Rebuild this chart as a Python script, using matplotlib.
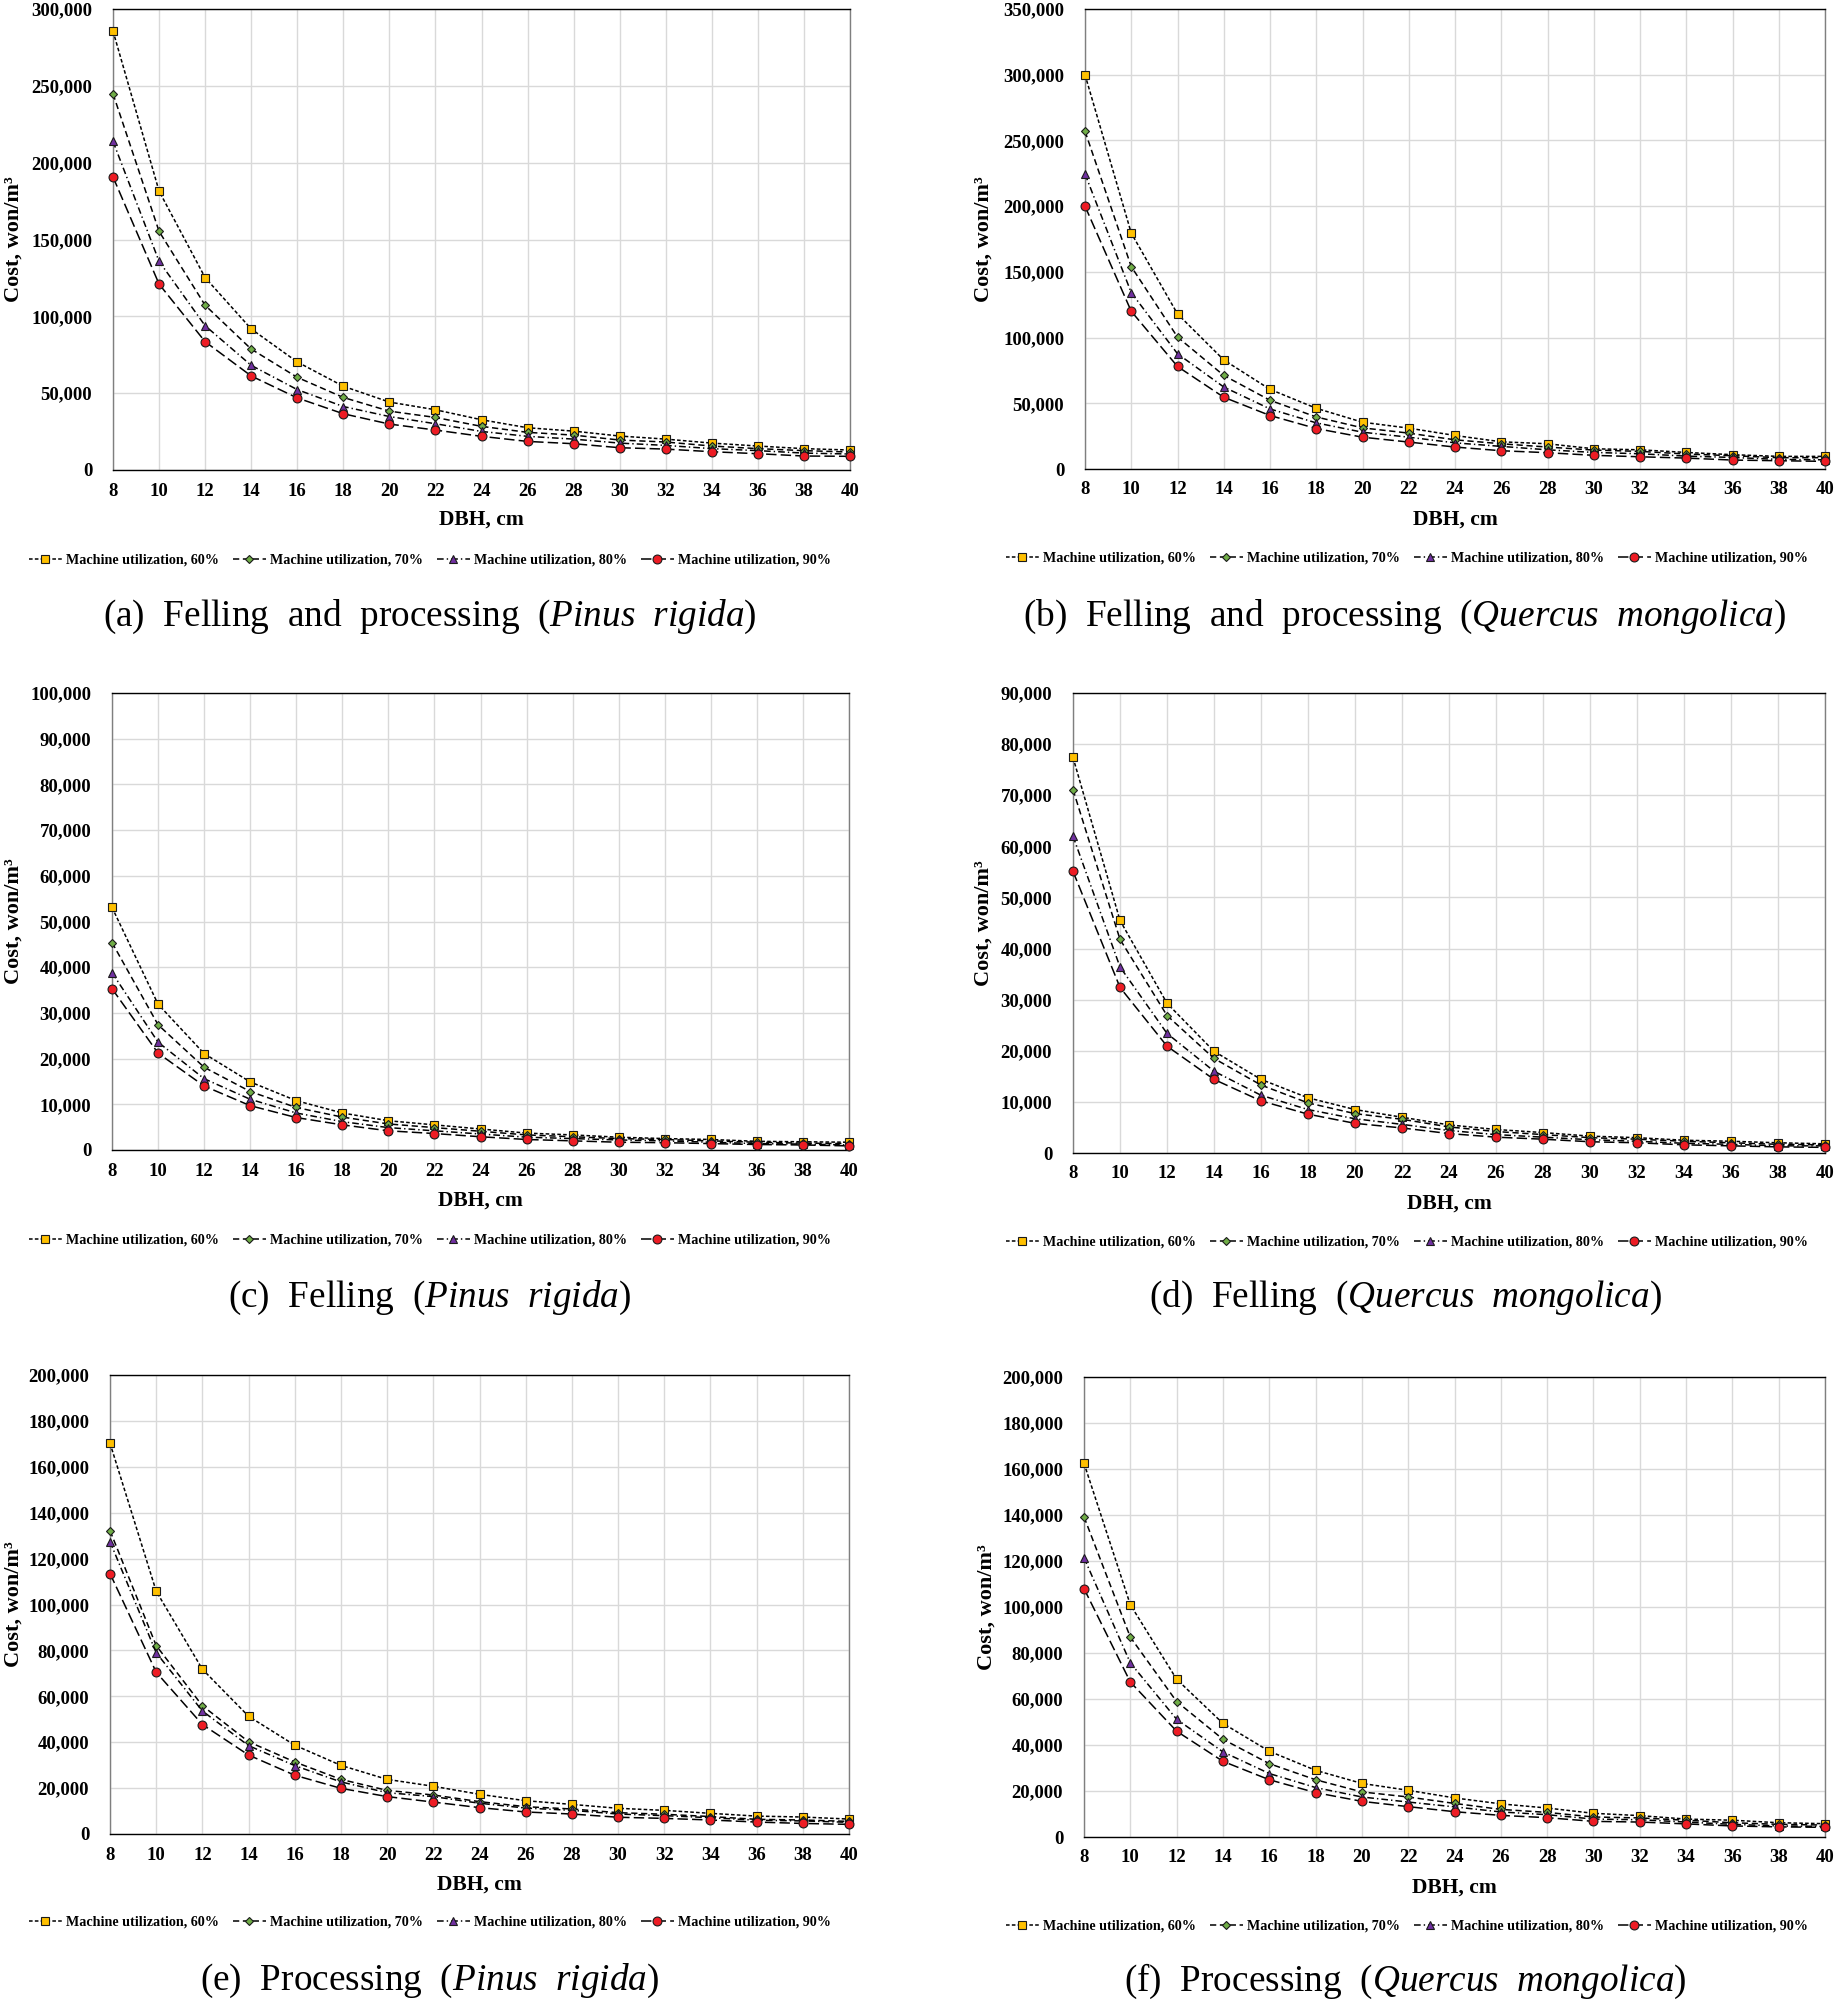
import matplotlib
matplotlib.use('Agg')
import matplotlib.pyplot as plt
from matplotlib.ticker import FuncFormatter, MultipleLocator

plt.rcParams['font.family'] = ['Liberation Serif', 'DejaVu Serif']
plt.rcParams['font.weight'] = 'bold'
plt.rcParams['mathtext.fontset'] = 'custom'
plt.rcParams['mathtext.rm'] = 'Liberation Serif:normal'
plt.rcParams['mathtext.it'] = 'Liberation Serif:italic:normal'
plt.rcParams['lines.scale_dashes'] = False

# ---------------- data ----------------
dbh = [8, 10, 12, 14, 16, 18, 20, 22, 24, 26, 28, 30, 32, 34, 36, 38, 40]
series_labels = ['Machine utilization, 60%', 'Machine utilization, 70%',
                 'Machine utilization, 80%', 'Machine utilization, 90%']

# (a) Felling and processing, Pinus rigida
a60 = [285700, 181500, 125200, 91800, 70300, 54500, 44200, 39200, 32700, 27500, 25300, 22100, 20100, 17500, 15600, 13900, 13000]
a70 = [244900, 155300, 107200, 78700, 60300, 47200, 38300, 34200, 28400, 24500, 22700, 19500, 18200, 15600, 13900, 12600, 11700]
a80 = [213900, 135800, 93900, 68100, 52300, 41300, 34800, 30100, 25100, 21900, 20100, 17500, 16000, 13900, 12600, 11000, 10400]
a90 = [190700, 121000, 83500, 61200, 46900, 36600, 29900, 26000, 21900, 18600, 17100, 14500, 13600, 11900, 10600, 9100, 8900]

# (b) Felling and processing, Quercus mongolica
b60 = [300000, 179500, 118000, 83000, 60600, 46200, 35600, 31100, 25500, 20700, 19200, 15400, 14600, 12600, 10900, 9600, 9600]
b70 = [257000, 154000, 100400, 71200, 52300, 39600, 31300, 27300, 22200, 19200, 16700, 14400, 13400, 11400, 10100, 8600, 8600]
b80 = [224500, 134200, 87700, 62400, 45700, 35100, 28000, 24200, 19900, 17200, 14600, 12600, 11600, 9800, 8800, 7300, 7000]
b90 = [200000, 120000, 78000, 54600, 40700, 30800, 24200, 20500, 16700, 13900, 12400, 10400, 9300, 8300, 6800, 6300, 5800]

# (c) Felling, Pinus rigida
c60 = [53100, 31900, 21100, 14900, 10800, 8100, 6400, 5500, 4600, 3700, 3300, 2800, 2500, 2300, 1900, 1800, 1700]
c70 = [45400, 27400, 18100, 12800, 9300, 7200, 5700, 4900, 4100, 3300, 2900, 2500, 2300, 2000, 1700, 1500, 1400]
c80 = [38800, 23600, 15600, 11100, 8100, 6200, 4900, 4200, 3500, 2800, 2500, 2200, 2000, 1700, 1400, 1300, 1100]
c90 = [35300, 21200, 14000, 9700, 7100, 5500, 4200, 3600, 2900, 2300, 2000, 1700, 1600, 1400, 1200, 1100, 900]

# (d) Felling, Quercus mongolica
d60 = [77400, 45500, 29300, 19900, 14400, 10800, 8500, 7000, 5500, 4600, 4000, 3300, 3000, 2500, 2300, 2000, 1800]
d70 = [71100, 41800, 26900, 18500, 13300, 9800, 7700, 6600, 5100, 4200, 3600, 3000, 2700, 2300, 2000, 1700, 1600]
d80 = [62000, 36400, 23400, 16000, 11300, 8500, 6700, 5600, 4400, 3600, 3100, 2600, 2300, 1900, 1700, 1400, 1400]
d90 = [55100, 32400, 20900, 14400, 10200, 7600, 5800, 4900, 3800, 3100, 2700, 2200, 2000, 1600, 1400, 1200, 1100]

# (e) Processing, Pinus rigida
e60 = [170300, 105800, 71800, 51300, 38700, 29900, 23800, 20800, 17300, 14500, 12900, 11200, 10300, 9000, 7800, 7400, 6500]
e70 = [132200, 82100, 55900, 40200, 31400, 23800, 19000, 17000, 14100, 11900, 10900, 9300, 8600, 7600, 6400, 6100, 5500]
e80 = [127400, 79000, 53600, 38500, 29800, 22700, 18000, 16300, 13400, 11300, 10300, 8700, 8000, 7100, 6000, 5700, 5100]
e90 = [113500, 70500, 47700, 34400, 25600, 19900, 16300, 13900, 11500, 9600, 8700, 7300, 6800, 6100, 5200, 4600, 4200]

# (f) Processing, Quercus mongolica
f60 = [162500, 101000, 68600, 49400, 37300, 29000, 23300, 20300, 17000, 14400, 12600, 10300, 9300, 7800, 7300, 6200, 5800]
f70 = [139200, 86900, 58900, 42500, 31900, 24900, 19600, 17400, 14600, 12000, 10700, 8700, 8300, 7300, 6200, 5500, 5200]
f80 = [121400, 75700, 51200, 37000, 27600, 21500, 17400, 15200, 13100, 10900, 9700, 7800, 7500, 6500, 5500, 4800, 4600]
f90 = [108000, 67400, 46000, 32900, 24900, 19300, 15500, 13200, 11000, 9400, 8400, 6800, 6500, 5700, 4800, 4400, 4200]

captions = [r'(a)  Felling  and  processing  ($\mathit{Pinus\ \ rigida}$)',
            r'(b)  Felling  and  processing  ($\mathit{Quercus\ \ mongolica}$)',
            r'(c)  Felling  ($\mathit{Pinus\ \ rigida}$)',
            r'(d)  Felling  ($\mathit{Quercus\ \ mongolica}$)',
            r'(e)  Processing  ($\mathit{Pinus\ \ rigida}$)',
            r'(f)  Processing  ($\mathit{Quercus\ \ mongolica}$)']
y_max = [300000, 350000, 100000, 90000, 200000, 200000]
y_step = [50000, 50000, 10000, 10000, 20000, 20000]
xticks = list(range(8, 41, 2))

# ---------------- styling ----------------
W, H = 1838, 2004
styles = [
    dict(marker='s', mfc='#FFC000', ms=6.2, ls=(0, (2.6, 1.6))),
    dict(marker='D', mfc='#70AD47', ms=4.2, ls=(0, (4.5, 2.6))),
    dict(marker='^', mfc='#7030A0', ms=6.2, ls=(0, (4.8, 2.2, 1.0, 2.2))),
    dict(marker='o', mfc='#ED1C24', ms=6.4, ls=(0, (7.5, 3.0))),
]

# panel rects in pixels: left, top, right, bottom
rects = [(113, 9, 850, 470), (1085, 9, 1825, 469),
         (112, 693, 849, 1150), (1073, 693, 1825, 1153),
         (110, 1375, 849, 1834), (1084, 1377, 1825, 1837)]
ylabel_x = [14, 984, 14, 984, 14, 987]
xlabel_y = [520, 520, 1201, 1204, 1885, 1888]
legend_pos = [(430, 560), (1407, 558), (430, 1240), (1407, 1242), (430, 1922), (1407, 1926)]
caption_pos = [(430, 617), (1405, 617), (430, 1298), (1405, 1298), (430, 1981), (1405, 1981)]

panels = [(a60, a70, a80, a90), (b60, b70, b80, b90), (c60, c70, c80, c90),
          (d60, d70, d80, d90), (e60, e70, e80, e90), (f60, f70, f80, f90)]

fig = plt.figure(figsize=(W / 100, H / 100), dpi=100)
fmt = FuncFormatter(lambda v, p: '{:,.0f}'.format(v))

for i, series in enumerate(panels):
    l, t, r, b = rects[i]
    ax = fig.add_axes([l / W, 1 - b / H, (r - l) / W, (b - t) / H])
    handles = []
    for vals, st, lab in zip(series, styles, series_labels):
        h, = ax.plot(dbh, vals, color='black', lw=1.1, linestyle=st['ls'],
                     marker=st['marker'], markersize=st['ms'], markerfacecolor=st['mfc'],
                     markeredgecolor='#1a1a1a', markeredgewidth=0.8, clip_on=False,
                     label=lab, zorder=3)
        handles.append(h)
    ax.set_xlim(8, 40)
    ax.set_ylim(0, y_max[i])
    ax.set_xticks(xticks)
    ax.yaxis.set_major_locator(MultipleLocator(y_step[i]))
    ax.yaxis.set_major_formatter(fmt)
    ax.tick_params(axis='both', length=0, labelsize=13.5)
    ax.tick_params(axis='y', pad=15)
    ax.tick_params(axis='x', pad=9)
    ax.grid(True, color='#d9d9d9', lw=1.0)
    ax.set_axisbelow(True)
    for side in ['left', 'right']:
        ax.spines[side].set_color('#7f7f7f')
    for side in ['top', 'bottom']:
        ax.spines[side].set_color('black')
    for s in ax.spines.values():
        s.set_linewidth(1.0)

    fig.text(ylabel_x[i] / W, 1 - ((t + b) / 2) / H, 'Cost, won/m\u00b3', rotation=90,
             ha='center', va='center', fontsize=16, fontweight='bold')
    fig.text(((l + r) / 2) / W, 1 - xlabel_y[i] / H, 'DBH, cm', ha='center', va='center',
             fontsize=15.5, fontweight='bold')
    lx, ly = legend_pos[i]
    ax.legend(handles=handles, loc='center', bbox_to_anchor=(lx / W, 1 - ly / H),
              bbox_transform=fig.transFigure, ncol=4, frameon=False,
              prop=dict(weight='bold', size=10.2), handlelength=2.3, handletextpad=0.3,
              columnspacing=1.0, borderpad=0, numpoints=1)
    cx, cy = caption_pos[i]
    fig.text(cx / W, 1 - cy / H, captions[i], ha='center', va='center', fontsize=26.8,
             fontweight='normal')

fig.savefig('out.png', dpi=100, facecolor='white')
